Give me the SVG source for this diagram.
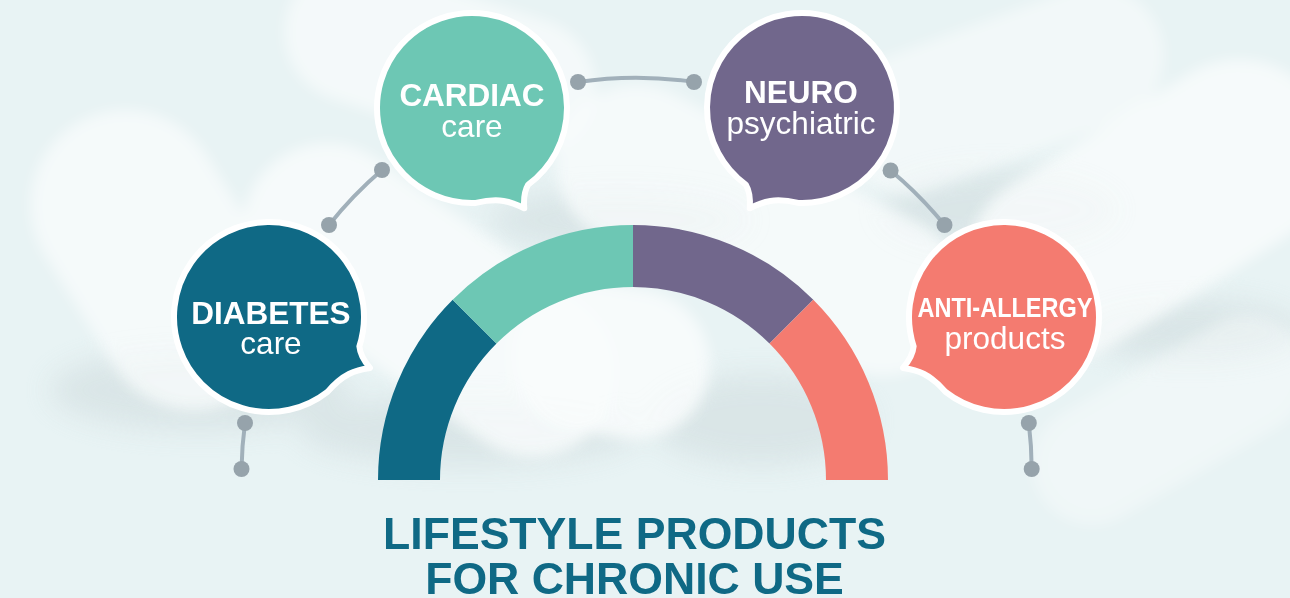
<svg xmlns="http://www.w3.org/2000/svg" width="1290" height="598" viewBox="0 0 1290 598">
  <defs>
    <style>
      .lbl { font-family: "Liberation Sans", Arial, Helvetica, sans-serif; fill: #ffffff; text-anchor: middle; }
      .b { font-weight: bold; font-size: 31.5px; }
      .r { font-weight: normal; font-size: 31.5px; }
      .title { font-family: "Liberation Sans", Arial, Helvetica, sans-serif; font-weight: bold; font-size: 44.6px; fill: #0f6985; text-anchor: middle; }
      .bubble { stroke: #ffffff; stroke-width: 6; stroke-linejoin: round; }
      .conn { fill: none; stroke: #a1b0ba; stroke-width: 4; stroke-linecap: round; }
      .dot { fill: #96a3ab; }
      .pill { fill: #ffffff; }
      .shadow { fill: #c9d6d8; }
    </style>
    <filter id="blur" x="-30%" y="-30%" width="160%" height="160%">
      <feGaussianBlur stdDeviation="7"/>
    </filter>
    <filter id="blur2" x="-40%" y="-40%" width="180%" height="180%">
      <feGaussianBlur stdDeviation="14"/>
    </filter>
    <path id="bubbleShape" d="M 58.49 74.86 A 95 95 0 1 1 90.35 29.36 C 91 37 95 44 101 51 C 86 53 74 57 58.49 74.86 Z"/>
  </defs>

  <!-- background -->
  <rect x="0" y="0" width="1290" height="598" fill="#e8f3f4"/>
  <g id="background-pills" opacity="0.75">
    <g filter="url(#blur2)" opacity="0.6">
      <ellipse class="shadow" cx="200" cy="390" rx="150" ry="40"/>
      <ellipse class="shadow" cx="470" cy="430" rx="170" ry="35"/>
      <ellipse class="shadow" cx="760" cy="420" rx="110" ry="45"/>
      <ellipse class="shadow" cx="1000" cy="210" rx="120" ry="40"/>
      <ellipse class="shadow" cx="1190" cy="330" rx="110" ry="30"/>
      <ellipse class="shadow" cx="620" cy="220" rx="130" ry="30"/>
    </g>
    <g filter="url(#blur)">
      <rect class="pill" x="-160" y="-95" width="320" height="190" rx="95" transform="translate(160,260) rotate(58)" opacity="0.75"/>
      <rect class="pill" x="-210" y="-85" width="420" height="170" rx="85" transform="translate(430,300) rotate(35)" opacity="0.8"/>
      <rect class="pill" x="-100" y="-75" width="200" height="150" rx="75" transform="translate(610,360) rotate(10)" opacity="0.85"/>
      <rect class="pill" x="-160" y="-70" width="320" height="140" rx="70" transform="translate(440,60) rotate(18)" opacity="0.7"/>
      <rect class="pill" x="-220" y="-80" width="440" height="160" rx="80" transform="translate(760,230) rotate(28)" opacity="0.75"/>
      <rect class="pill" x="-200" y="-95" width="400" height="190" rx="95" transform="translate(1150,210) rotate(-32)" opacity="0.8"/>
      <rect class="pill" x="-170" y="-70" width="340" height="140" rx="70" transform="translate(1000,90) rotate(-20)" opacity="0.6"/>
      <rect class="pill" x="-150" y="-60" width="300" height="120" rx="60" transform="translate(1170,420) rotate(-30)" opacity="0.45"/>
    </g>
  </g>

  <!-- gauge -->
  <g id="gauge">
    <path d="M 378 480 A 255 255 0 0 1 452.7 299.7 L 496.5 343.5 A 193 193 0 0 0 440 480 Z" fill="#0f6985"/>
    <path d="M 452.7 299.7 A 255 255 0 0 1 633 225 L 633 287 A 193 193 0 0 0 496.5 343.5 Z" fill="#6dc7b4"/>
    <path d="M 633 225 A 255 255 0 0 1 813.3 299.7 L 769.5 343.5 A 193 193 0 0 0 633 287 Z" fill="#71678c"/>
    <path d="M 813.3 299.7 A 255 255 0 0 1 888 480 L 826 480 A 193 193 0 0 0 769.5 343.5 Z" fill="#f47b70"/>
  </g>

  <!-- connectors -->
  <g id="connectors">
    <path class="conn" d="M 245 423 A 393 393 0 0 0 241.5 469"/>
    <path class="conn" d="M 329 225 A 398 398 0 0 1 382 170"/>
    <path class="conn" d="M 578 82 A 400 400 0 0 1 694 82"/>
    <path class="conn" d="M 890.6 170.5 A 398 398 0 0 1 944.5 225"/>
    <path class="conn" d="M 1028.8 423 A 398 398 0 0 1 1031.7 469"/>
    <circle class="dot" cx="245" cy="423" r="8"/>
    <circle class="dot" cx="241.5" cy="469" r="8"/>
    <circle class="dot" cx="329" cy="225" r="8"/>
    <circle class="dot" cx="382" cy="170" r="8"/>
    <circle class="dot" cx="578" cy="82" r="8"/>
    <circle class="dot" cx="694" cy="82" r="8"/>
    <circle class="dot" cx="890.6" cy="170.5" r="8"/>
    <circle class="dot" cx="944.5" cy="225" r="8"/>
    <circle class="dot" cx="1028.8" cy="423" r="8"/>
    <circle class="dot" cx="1031.7" cy="469" r="8"/>
  </g>

  <!-- nodes -->
  <g id="node-diabetes">
    <use href="#bubbleShape" class="bubble" fill="#0f6985" transform="translate(269,317)"/>
    <text class="lbl b" x="271" y="324">DIABETES</text>
    <text class="lbl r" x="271" y="354">care</text>
  </g>
  <g id="node-cardiac">
    <use href="#bubbleShape" class="bubble" fill="#6dc7b4" transform="translate(472,108) rotate(35.7)"/>
    <text class="lbl b" x="472" y="106">CARDIAC</text>
    <text class="lbl r" x="472" y="136.5">care</text>
  </g>
  <g id="node-neuro">
    <use href="#bubbleShape" class="bubble" fill="#71678c" transform="translate(802,108) scale(-1,1) rotate(35.7)"/>
    <text class="lbl b" x="801" y="103">NEURO</text>
    <text class="lbl r" x="801" y="134">psychiatric</text>
  </g>
  <g id="node-antiallergy">
    <use href="#bubbleShape" class="bubble" fill="#f47b70" transform="translate(1004,317) scale(-1,1)"/>
    <text class="lbl" x="1005" y="317" font-weight="bold" font-size="28.5" textLength="175" lengthAdjust="spacingAndGlyphs">ANTI-ALLERGY</text>
    <text class="lbl r" x="1005" y="349">products</text>
  </g>

  <!-- title -->
  <g id="title">
    <text class="title" x="634.5" y="549">LIFESTYLE PRODUCTS</text>
    <text class="title" x="634.5" y="594">FOR CHRONIC USE</text>
  </g>
</svg>
